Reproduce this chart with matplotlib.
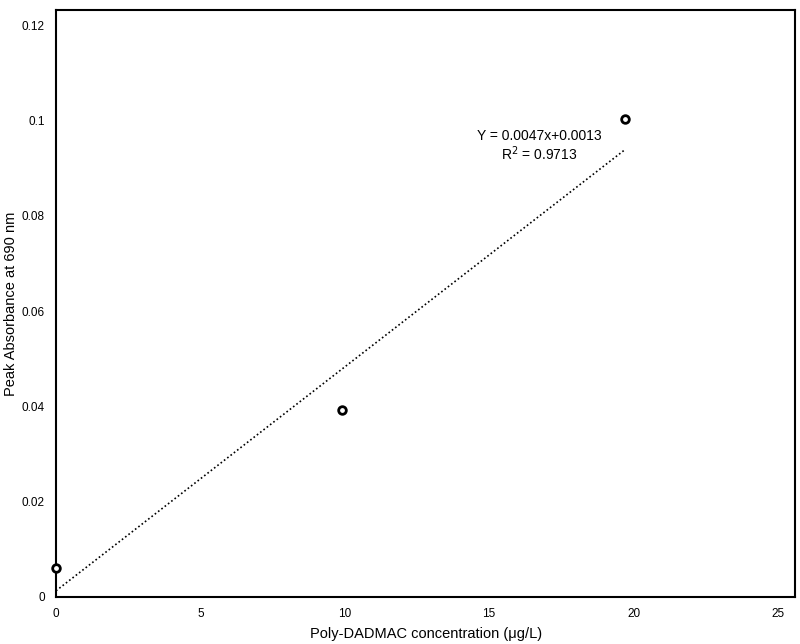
import matplotlib
matplotlib.use("Agg")
import matplotlib.pyplot as plt
import numpy as np

plt.rcParams['font.family'] = ['Liberation Sans', 'DejaVu Sans']

conc = [0, 9.9, 19.7]
absorb = [0.0061, 0.0393, 0.1004]
slope = 0.0047
intercept = 0.0013
eq_text = "Y = 0.0047x+0.0013"
r2_text = "R$^2$ = 0.9713"
xticks = [0, 5, 10, 15, 20, 25]
yticks = [0, 0.02, 0.04, 0.06, 0.08, 0.1, 0.12]
yticklabels = ["0", "0.02", "0.04", "0.06", "0.08", "0.1", "0.12"]

fig = plt.figure(figsize=(8, 6.44), dpi=100)
ax = fig.add_axes([0.07, 0.073, 0.924, 0.912])

xf = np.array([0, 19.7])
ax.plot(xf, slope * xf + intercept, linestyle=(0, (1, 1.5)), color='black', linewidth=1.2)
ax.plot(conc, absorb, 'o', markerfacecolor='white', markeredgecolor='black',
        markeredgewidth=2, markersize=5.5, clip_on=False, zorder=5)

ax.set_xlim(0, 25.6)
ax.set_ylim(0, 0.1233)
ax.set_xticks(xticks)
ax.set_xticklabels([str(t) for t in xticks], fontsize=8.5)
ax.set_yticks(yticks)
ax.set_yticklabels(yticklabels, fontsize=8.5)
ax.tick_params(axis='both', length=0, pad=8)

for s in ax.spines.values():
    s.set_linewidth(1.5)

ax.text(16.75, 0.0968, eq_text, ha='center', va='center', fontsize=10)
ax.text(16.75, 0.0930, r2_text, ha='center', va='center', fontsize=10)

ax.set_xlabel("Poly-DADMAC concentration (μg/L)", fontsize=10.5, labelpad=5)
ax.set_ylabel("Peak Absorbance at 690 nm", fontsize=10.5)
ax.yaxis.set_label_coords(-0.051, 0.5)

fig.savefig("out.png", dpi=100)
